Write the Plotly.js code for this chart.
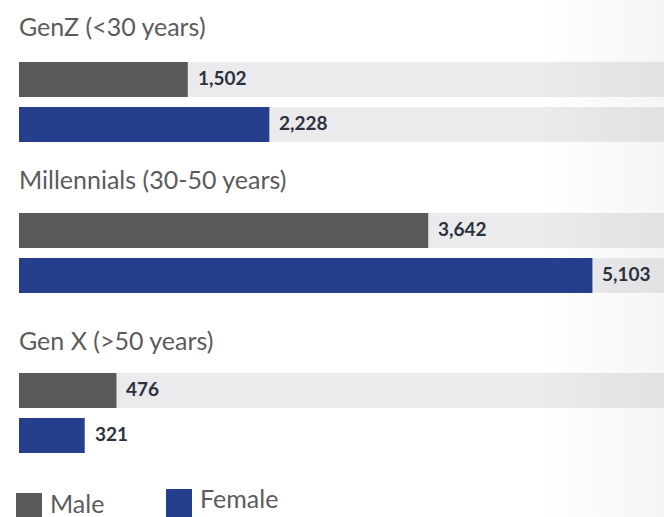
<!DOCTYPE html>
<html>
<head>
<meta charset="utf-8">
<script src="https://cdn.plot.ly/plotly-3.0.1.min.js"></script>
<style>
  html, body { margin: 0; padding: 0; background: #ffffff; }
  #wrap { position: relative; width: 664px; height: 517px; overflow: hidden; }
  #chart { width: 664px; height: 517px; }
  #shade { position: absolute; left: 0; top: 0; width: 664px; height: 517px; pointer-events: none;
           background: linear-gradient(to right, rgba(0,0,0,0) 0%, rgba(0,0,0,0) 81%, rgba(0,0,0,0.04) 100%); }
</style>
</head>
<body>
<div id="wrap"><div id="chart"></div><div id="shade"></div></div>
<script>
// ---- data ----
const groups = ['GenZ (<30 years)', 'Millennials (30-50 years)', 'Gen X (>50 years)'];
const genders = ['Male', 'Female'];
const maleValues = [1502, 3642, 476];
const femaleValues = [2228, 5103, 321];

// ---- styles / layout config ----
const colors = { Male: '#58595b', Female: '#253f8d' };
const trackColor = '#ebebed';
const showTrack = [[true, true], [true, true], [true, false]];
const xAxisOf = ['x', 'x', 'x2'];
const yAxisOf = ['y', 'y2', 'y3'];
const xRanges = { x: [0, 5740], x2: [0, 3150] };
const H = 517;
const frac = p => 1 - p / H;
const yDomains = [[frac(147), frac(57)], [frac(298), frac(208)], [frac(458), frac(368)]];
const titleY = [26, 179, 340];

const traces = [];
const annotations = [];
groups.forEach((g, i) => {
  const vals = [maleValues[i], femaleValues[i]];
  const xa = xAxisOf[i], ya = yAxisOf[i];
  const tMax = xRanges[xa][1];
  const ty = [], tx = [];
  genders.forEach((s, j) => { if (showTrack[i][j]) { ty.push(s); tx.push(tMax); } });
  traces.push({
    type: 'bar', orientation: 'h', x: tx, y: ty, xaxis: xa, yaxis: ya,
    marker: { color: trackColor }, width: 0.778, hoverinfo: 'skip', showlegend: false
  });
  traces.push({
    type: 'bar', orientation: 'h', x: vals, y: genders, xaxis: xa, yaxis: ya,
    marker: { color: genders.map(s => colors[s]) }, width: 0.778, showlegend: false,
    hovertemplate: '%{y}: %{x:,}<extra>' + g + '</extra>'
  });
  genders.forEach((s, j) => {
    annotations.push({
      xref: xa, yref: ya, x: vals[j], y: s, xanchor: 'left', yanchor: 'middle',
      xshift: 8, yshift: 2, showarrow: false, text: vals[j].toLocaleString('en-US'),
      font: { family: 'Lato, sans-serif', size: 19, color: '#2b3240', weight: 'bold' }
    });
  });
  annotations.push({
    xref: 'paper', yref: 'paper', x: 0, y: frac(titleY[i]), xanchor: 'left', yanchor: 'middle',
    showarrow: false, text: g, xshift: -2,
    font: { family: 'Lato, sans-serif', size: 25, color: '#5b5b5d' }
  });
});

// legend drawn with shapes + annotations
const legendItems = [
  { name: 'Male', x0: 16, y0: 493, textX: 48, textY: 503 },
  { name: 'Female', x0: 166, y0: 489, textX: 198, textY: 498 }
];
const W = 645, L = 19;
const px = p => (p - L) / W;
const shapes = legendItems.map(it => ({
  type: 'rect', xref: 'paper', yref: 'paper',
  x0: px(it.x0), x1: px(it.x0 + 26), y0: frac(it.y0), y1: frac(it.y0 + 30),
  fillcolor: colors[it.name], line: { width: 0 }
}));
legendItems.forEach(it => annotations.push({
  xref: 'paper', yref: 'paper', x: px(it.textX), y: frac(it.textY), xanchor: 'left', yanchor: 'middle',
  showarrow: false, text: it.name, font: { family: 'Lato, sans-serif', size: 25, color: '#5b5b5d' }
}));

const hiddenY = d => ({ domain: d, type: 'category', categoryorder: 'array', categoryarray: genders,
  range: [1.5, -0.5], visible: false, fixedrange: true });
const layout = {
  width: 664, height: 517,
  margin: { l: L, r: 0, t: 0, b: 0 },
  paper_bgcolor: 'rgba(0,0,0,0)', plot_bgcolor: 'rgba(0,0,0,0)',
  barmode: 'overlay', showlegend: false,
  xaxis: { range: xRanges.x, visible: false, fixedrange: true, anchor: 'y' },
  xaxis2: { range: xRanges.x2, visible: false, fixedrange: true, anchor: 'y3', overlaying: 'x' },
  yaxis: hiddenY(yDomains[0]),
  yaxis2: hiddenY(yDomains[1]),
  yaxis3: hiddenY(yDomains[2]),
  annotations: annotations,
  shapes: shapes
};
Plotly.newPlot('chart', traces, layout, { displayModeBar: false, staticPlot: true });
</script>
</body>
</html>
